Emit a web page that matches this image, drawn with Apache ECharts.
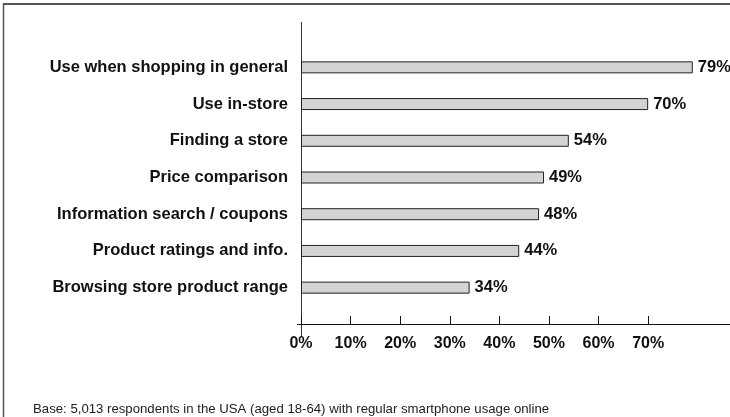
<!DOCTYPE html>
<html>
<head>
<meta charset="utf-8">
<script src="https://cdn.jsdelivr.net/npm/echarts@6/dist/echarts.min.js"></script>
<style>
  html, body { margin: 0; padding: 0; background: #fff; }
  #chart { width: 730px; height: 417px; }
</style>
</head>
<body>
<div id="chart"></div>
<script>
// Smartphone use while shopping (share of respondents, %)
const categories = [
  'Use when shopping in general',
  'Use in-store',
  'Finding a store',
  'Price comparison',
  'Information search / coupons',
  'Product ratings and info.',
  'Browsing store product range'
];
const shares = [79, 70, 54, 49, 48, 44, 34];
const tickValues = [0, 10, 20, 30, 40, 50, 60, 70];
const footnote = 'Base: 5,013 respondents in the USA (aged 18-64) with regular smartphone usage online';

const FONT = '"Liberation Sans", Arial, Helvetica, sans-serif';
const GRID_LEFT = 301;
const GRID_TOP = 49;
const GRID_BOTTOM = 111;
const AXIS_Y = 324;

const chart = echarts.init(document.getElementById('chart'), null, { renderer: 'canvas' });

chart.setOption({
  animation: false,
  backgroundColor: '#ffffff',
  textStyle: { fontFamily: FONT },
  title: {
    text: footnote,
    left: 28,
    top: 398,
    textStyle: { fontFamily: FONT, fontSize: 13.2, fontWeight: 'normal', color: '#222' }
  },
  grid: { left: GRID_LEFT, right: 0, top: GRID_TOP, bottom: GRID_BOTTOM, containLabel: false },
  xAxis: {
    type: 'value',
    min: 0,
    max: 86.5,
    interval: 10,
    offset: AXIS_Y - (417 - GRID_BOTTOM),
    splitLine: { show: false },
    axisLine: { show: true, lineStyle: { color: '#111', width: 1 } },
    axisTick: {
      show: true, inside: true, length: 8,
      customValues: tickValues,
      lineStyle: { color: '#111', width: 1 }
    },
    axisLabel: {
      customValues: tickValues,
      formatter: '{value}%',
      margin: 12,
      fontFamily: FONT, fontSize: 16, fontWeight: 'bold', color: '#111'
    }
  },
  yAxis: {
    type: 'category',
    inverse: true,
    data: categories,
    axisLine: { show: false },
    axisTick: { show: false },
    splitLine: { show: false },
    axisLabel: {
      margin: 13,
      fontFamily: FONT, fontSize: 16.5, fontWeight: 'bold', color: '#111'
    }
  },
  series: [{
    type: 'bar',
    data: shares,
    barWidth: 12,
    silent: true,
    itemStyle: { color: '#d3d3d3', borderColor: '#222', borderWidth: 1 },
    label: {
      show: true,
      position: 'right',
      distance: 5,
      formatter: '{c}%',
      fontFamily: FONT, fontSize: 16.5, fontWeight: 'bold', color: '#111'
    }
  }],
  graphic: [
    // frame around the chart area
    { type: 'line', silent: true, shape: { x1: 3, y1: 4, x2: 730, y2: 4 },
      style: { stroke: '#555', lineWidth: 2 } },
    { type: 'line', silent: true, shape: { x1: 3.5, y1: 3, x2: 3.5, y2: 417 },
      style: { stroke: '#555', lineWidth: 1.5 } },
    // vertical axis line, running above the bars and past the value axis
    { type: 'line', silent: true, shape: { x1: GRID_LEFT + 0.5, y1: 22, x2: GRID_LEFT + 0.5, y2: 337 },
      style: { stroke: '#333', lineWidth: 1 } },
    // short stub of the value axis left of zero
    { type: 'line', silent: true, shape: { x1: GRID_LEFT - 4, y1: AXIS_Y + 0.5, x2: GRID_LEFT, y2: AXIS_Y + 0.5 },
      style: { stroke: '#111', lineWidth: 1 } }
  ]
});
</script>
</body>
</html>
